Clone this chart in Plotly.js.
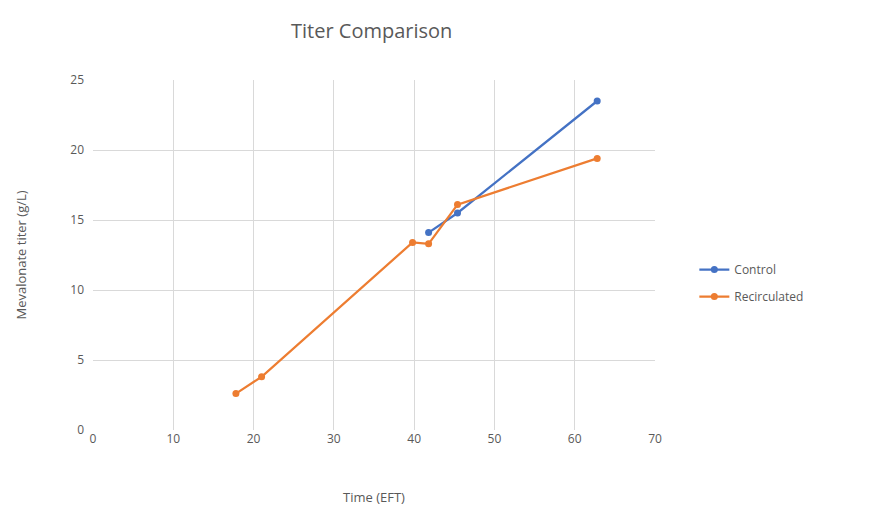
<!DOCTYPE html>
<html><head><meta charset="utf-8">
<script src="https://cdn.plot.ly/plotly-3.0.1.min.js"></script>
<style>html,body{margin:0;padding:0;background:#fff}</style>
</head><body>
<div id="chart" style="width:885px;height:520px"></div>
<script>
const controlX = [41.8, 45.4, 62.8];
const controlY = [14.1, 15.5, 23.5];
const recircX = [17.8, 21.0, 39.8, 41.8, 45.4, 62.8];
const recircY = [2.6, 3.8, 13.4, 13.3, 16.1, 19.4];
const xTicks = [0, 10, 20, 30, 40, 50, 60, 70];
const yTicks = [0, 5, 10, 15, 20, 25];

const font = {family: 'Open Sans, Liberation Sans, sans-serif', color: '#595959'};
const traces = [
  {x: controlX, y: controlY, name: 'Control', mode: 'lines+markers', legendgroup: 'a',
   line: {color: '#4472C4', width: 2.25}, marker: {color: '#4472C4', size: 7, symbol: 'circle'}},
  {x: recircX, y: recircY, name: 'Recirculated', mode: 'lines+markers', legendgroup: 'b',
   line: {color: '#ED7D31', width: 2.25}, marker: {color: '#ED7D31', size: 7, symbol: 'circle'}}
];
const layout = {
  width: 885, height: 520,
  margin: {l: 93, r: 230, t: 80, b: 90},
  paper_bgcolor: '#fff', plot_bgcolor: '#fff',
  font: Object.assign({size: 12}, font),
  title: {text: 'Titer Comparison', x: 0.42, xanchor: 'center', y: 0.94, yanchor: 'middle',
          font: Object.assign({}, font, {size: 20})},
  xaxis: {range: [0, 70], tickvals: xTicks, showgrid: true, gridcolor: '#d9d9d9', gridwidth: 1,
          zeroline: false, showline: false, ticks: '', tickfont: {size: 12, color: '#595959'},
          title: {text: 'Time (EFT)', font: {size: 13, color: '#595959'}, standoff: 46}},
  yaxis: {range: [0, 25], tickvals: yTicks, showgrid: true, gridcolor: '#d9d9d9', gridwidth: 1,
          zeroline: false, showline: false, ticks: '', ticklabelstandoff: 8, tickfont: {size: 12, color: '#595959'},
          title: {text: 'Mevalonate titer (g/L)', font: {size: 13, color: '#595959'}, standoff: 40}},
  showlegend: true,
  legend: {x: 1.07, xanchor: 'left', y: 0.42, yanchor: 'middle', font: {size: 12, color: '#595959'},
           bgcolor: 'rgba(0,0,0,0)', tracegroupgap: 8}
};
Plotly.newPlot('chart', traces, layout, {displayModeBar: false, staticPlot: true});
</script>
</body></html>
